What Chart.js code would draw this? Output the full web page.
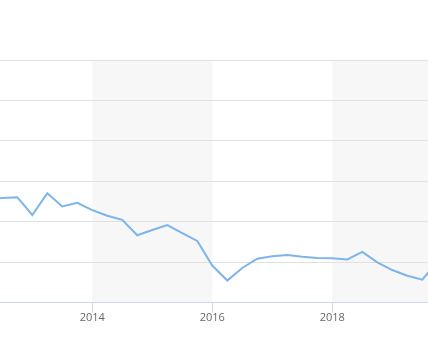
<!DOCTYPE html>
<html>
<head>
<meta charset="utf-8">
<script src="https://cdn.jsdelivr.net/npm/chart.js@4/dist/chart.umd.min.js"></script>
<style>
  html, body { margin: 0; padding: 0; background: #ffffff; }
  #wrap { width: 428px; height: 340px; position: relative; }
</style>
</head>
<body>
<div id="wrap"><canvas id="c" width="428" height="340"></canvas></div>
<script>
// Quarterly time points (decimal years)
const quarters = [2012.25, 2012.5, 2012.75, 2013.0, 2013.25, 2013.5, 2013.75,
  2014.0, 2014.25, 2014.5, 2014.75, 2015.0, 2015.25, 2015.5, 2015.75,
  2016.0, 2016.25, 2016.5, 2016.75, 2017.0, 2017.25, 2017.5, 2017.75,
  2018.0, 2018.25, 2018.5, 2018.75, 2019.0, 2019.25, 2019.5, 2019.75];
// Series values
const values = [2.55, 2.59, 2.61, 2.17, 2.71, 2.38, 2.47,
  2.29, 2.15, 2.05, 1.67, 1.80, 1.92, 1.72, 1.53,
  0.92, 0.55, 0.86, 1.09, 1.15, 1.18, 1.14, 1.11,
  1.10, 1.07, 1.26, 1.00, 0.81, 0.67, 0.57, 1.02];
// X tick labels
const xTicks = [2014, 2016, 2018];
// Shaded bands (start, end year)
const bandStarts = [2010, 2014, 2018];
const bandEnds = [2012, 2016, 2020];

const bandPlugin = {
  id: 'bands',
  beforeDraw(chart) {
    const { ctx, chartArea, scales } = chart;
    const xs = scales.x;
    ctx.save();
    ctx.fillStyle = '#f7f7f7';
    for (let i = 0; i < bandStarts.length; i++) {
      let a = Math.max(xs.getPixelForValue(bandStarts[i]), chartArea.left);
      let b = Math.min(xs.getPixelForValue(bandEnds[i]), chartArea.right);
      if (b > a) ctx.fillRect(a, chartArea.top, b - a, chartArea.bottom - chartArea.top);
    }
    ctx.restore();
  }
};

new Chart(document.getElementById('c'), {
  type: 'line',
  data: {
    datasets: [{
      data: quarters.map((q, i) => ({ x: q, y: values[i] })),
      borderColor: '#7cb5ec',
      borderWidth: 2,
      pointRadius: 0,
      tension: 0,
      fill: false
    }]
  },
  options: {
    responsive: false,
    animation: false,
    layout: { padding: { top: 60, left: 0, right: 0, bottom: 18 } },
    plugins: { legend: { display: false }, tooltip: { enabled: false } },
    scales: {
      x: {
        type: 'linear',
        min: 2012.462,
        max: 2019.595,
        afterBuildTicks(axis) { axis.ticks = xTicks.map(v => ({ value: v })); },
        ticks: {
          autoSkip: false,
          maxRotation: 0,
          padding: -2,
          color: '#666666',
          font: { family: 'Open Sans', size: 11 },
          callback: v => String(v)
        },
        grid: { drawOnChartArea: false, drawTicks: true, tickLength: 10, color: '#ccd6eb' },
        border: { display: true, color: '#ccd6eb', width: 1 }
      },
      y: {
        min: 0,
        max: 6,
        ticks: { display: false, stepSize: 1 },
        grid: { color: '#e0e0e0', drawTicks: false, tickLength: 0 },
        border: { display: false }
      }
    }
  },
  plugins: [bandPlugin]
});
</script>
</body>
</html>
